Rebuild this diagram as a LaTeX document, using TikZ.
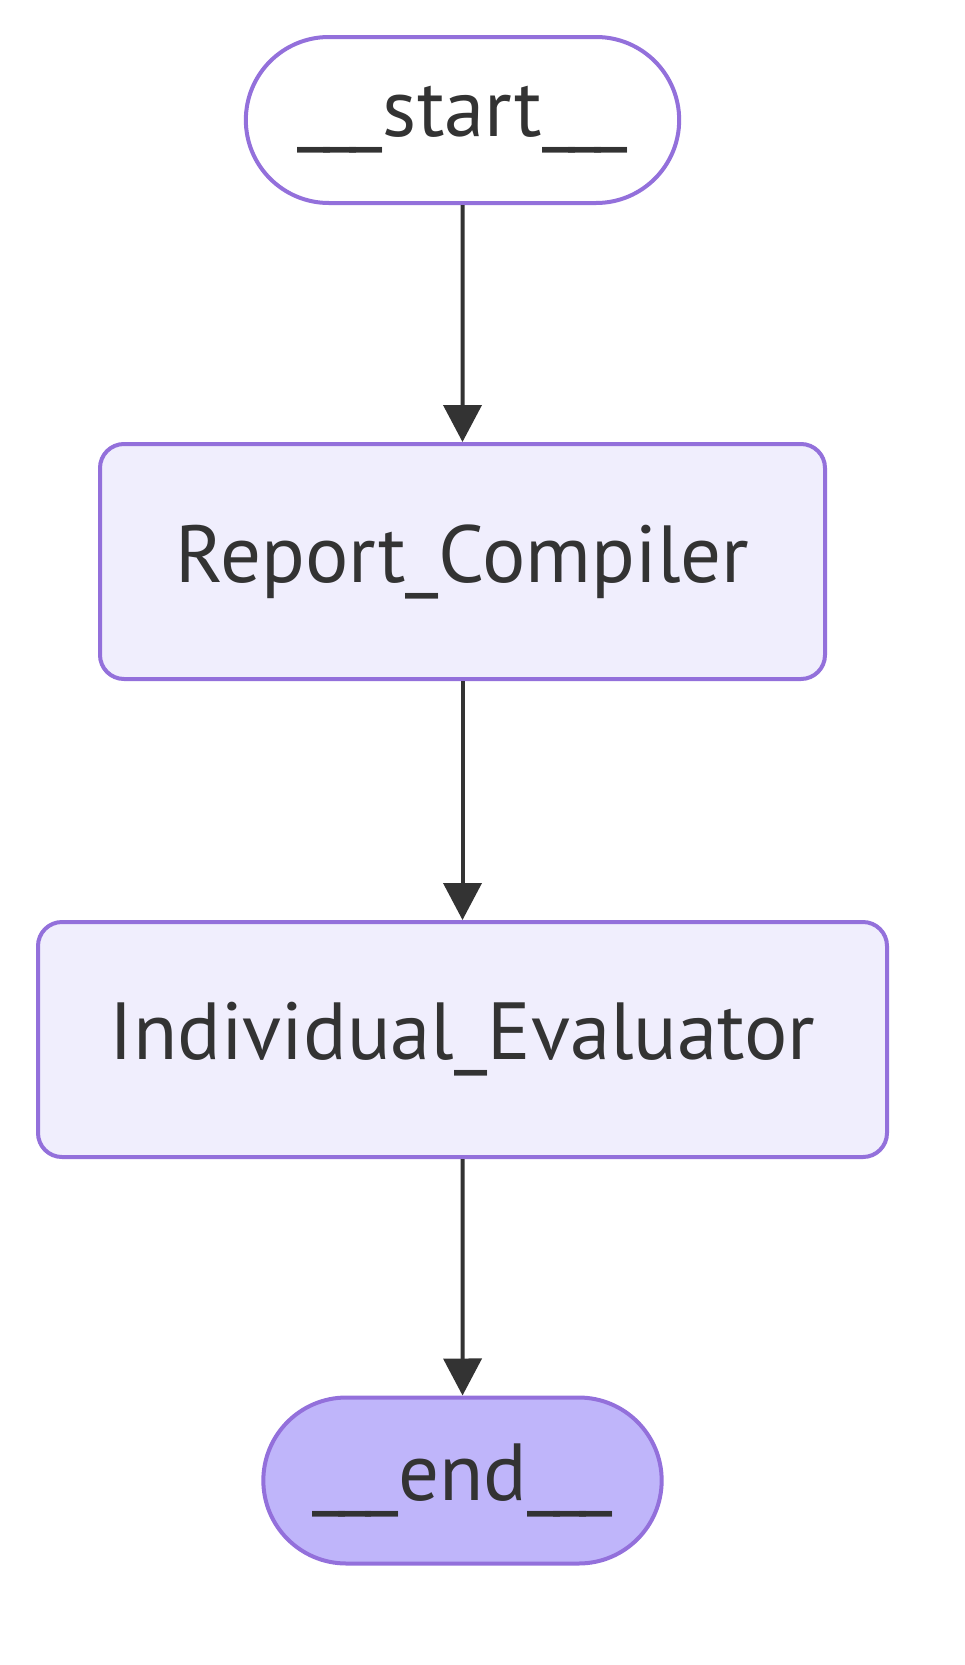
\documentclass[tikz,border=0pt]{standalone}
\usepackage{fontspec}
\setmainfont{PT Sans}
\usetikzlibrary{arrows.meta, positioning, shapes.misc}
\definecolor{edge}{HTML}{9370DB}
\definecolor{boxfill}{HTML}{F0EEFD}
\definecolor{endfill}{HTML}{BFB5FA}
\definecolor{ink}{HTML}{333333}
\newcommand{\trio}{\_\kern-7pt\_\kern-7pt\_}

\tikzset{
  terminal/.style={draw=edge, line width=4pt, rounded rectangle,
    minimum height=166pt, text=ink, font=\fontsize{81}{92}\selectfont},
  process/.style={draw=edge, line width=4pt, rounded corners=24pt,
    fill=boxfill, minimum height=235pt, text=ink,
    font=\fontsize{81}{92}\selectfont},
  flow/.style={-{Triangle[length=37pt, width=38pt]}, line width=4pt, ink}
}

\begin{document}
\begin{tikzpicture}[x=1pt, y=-1pt]
  \useasboundingbox (0,0) rectangle (965,1665);
  \node[terminal, fill=white, minimum width=440pt] (start) at (462.5,120)
    {\trio start\trio};
  \node[process, minimum width=725pt] (report) at (462.5,561.5)
    {Report\_Compiler};
  \node[process, minimum width=849pt] (evaluator) at (462.5,1039.5)
    {Individual\_Evaluator};
  \node[terminal, fill=endfill, minimum width=405pt] (end) at (462.5,1480.5)
    {\trio end\trio};
  \draw[flow] (start) -- (report);
  \draw[flow] (report) -- (evaluator);
  \draw[flow] (evaluator) -- (end);
\end{tikzpicture}
\end{document}
